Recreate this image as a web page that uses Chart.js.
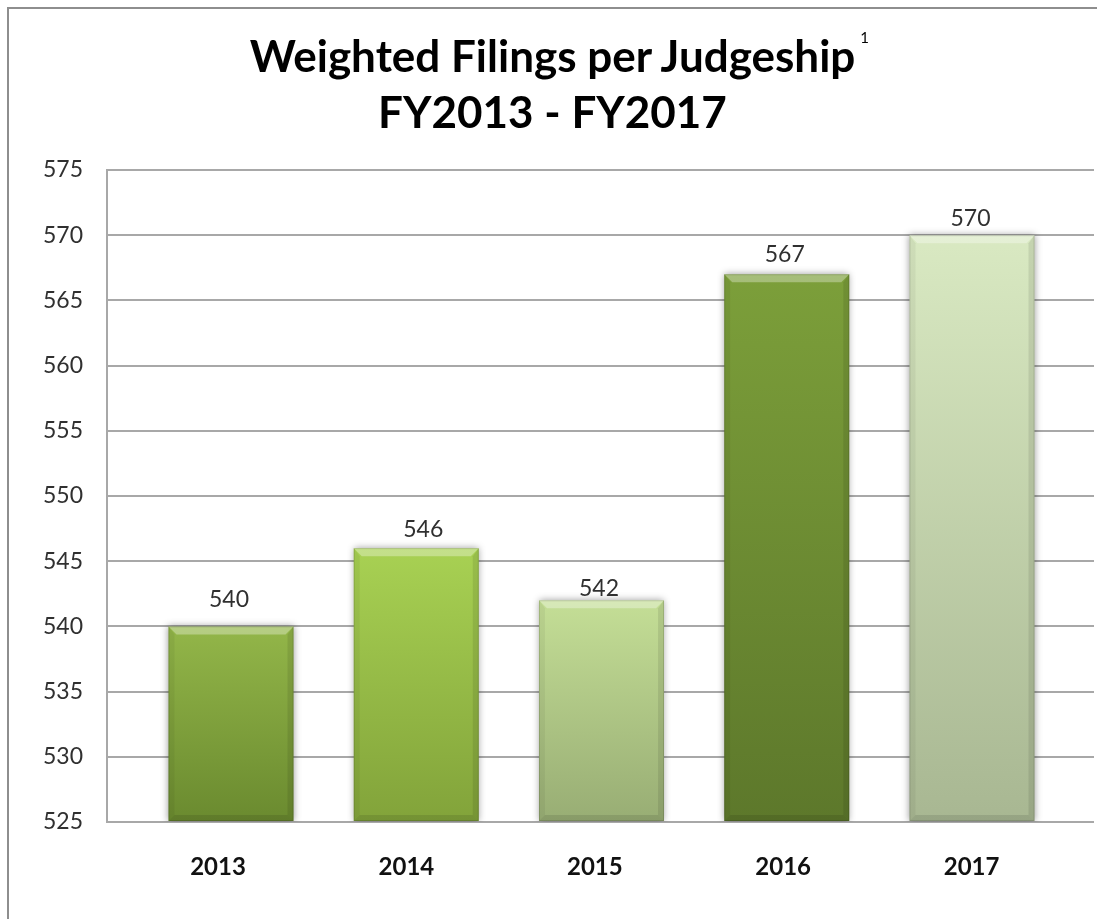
<!DOCTYPE html>
<html>
<head>
<meta charset="utf-8">
<script src="https://cdn.jsdelivr.net/npm/chart.js@4.4.1/dist/chart.umd.min.js"></script>
<style>
  html, body { margin: 0; padding: 0; background: #ffffff; }
  #wrap { position: relative; width: 1097px; height: 919px; overflow: hidden; background: #fff; }
  #frame { position: absolute; left: 7px; top: 7px; width: 1300px; height: 1100px;
           border-left: 2px solid #8e8e8e; border-top: 2px solid #8e8e8e; }
  #title { position: absolute; left: 0; top: 27px; width: 1105px; text-align: center;
           font-family: Lato, "Open Sans", sans-serif; font-weight: 700; font-size: 44px;
           line-height: 56px; color: #000; }
  #title .sup { position: relative; }
  #title .sup i { position: absolute; left: calc(100% + 5px); top: 1px; font-style: normal;
                  font-size: 15px; line-height: 15px; font-weight: 400; }
  canvas { position: absolute; left: 0; top: 0; }
</style>
</head>
<body>
<div id="wrap">
  <div id="frame"></div>
  <canvas id="c" width="1097" height="919"></canvas>
  <div id="title"><span class="sup">Weighted Filings per Judgeship<i>1</i></span><br>FY2013 - FY2017</div>
</div>
<script>
// ---- data ----
const categories = ['2013', '2014', '2015', '2016', '2017'];
const values = [540, 546, 542, 567, 570];
const yTicks = [525, 530, 535, 540, 545, 550, 555, 560, 565, 570, 575];

// ---- styles ----
const barTopColors = ['#93b649', '#a8d153', '#c4de96', '#7c9f3a', '#d9e9c2'];
const barBottomColors = ['#6a8a2f', '#82a33a', '#98ad74', '#5d782b', '#a8b792'];
const labelDx = [-2, 7, -2.5, -2, -1.5];
const labelDy = [19, 11, 4, 12, 9];

const barFx = {
  id: 'barFx',
  beforeDatasetsDraw(chart) {
    const ctx = chart.ctx;
    ctx.save();
    ctx.shadowColor = 'rgba(0,0,0,0.38)';
    ctx.shadowBlur = 7;
    ctx.shadowOffsetX = 0;
    ctx.shadowOffsetY = 0;
  },
  afterDatasetsDraw(chart) {
    const ctx = chart.ctx;
    ctx.restore();
    const meta = chart.getDatasetMeta(0);
    const area = chart.chartArea;
    const b = 8;
    ctx.save();
    meta.data.forEach((bar) => {
      const w = bar.width;
      const l = bar.x - w / 2, r = bar.x + w / 2, t = bar.y, bot = Math.min(bar.base, area.bottom);
      // top bevel
      ctx.fillStyle = 'rgba(255,255,255,0.32)';
      ctx.beginPath();
      ctx.moveTo(l, t); ctx.lineTo(r, t); ctx.lineTo(r - b, t + b); ctx.lineTo(l + b, t + b);
      ctx.closePath(); ctx.fill();
      // left bevel
      ctx.fillStyle = 'rgba(0,0,0,0.05)';
      ctx.beginPath();
      ctx.moveTo(l, t); ctx.lineTo(l + 6, t + b); ctx.lineTo(l + 6, bot - 6); ctx.lineTo(l, bot);
      ctx.closePath(); ctx.fill();
      // right bevel
      ctx.fillStyle = 'rgba(0,0,0,0.09)';
      ctx.beginPath();
      ctx.moveTo(r, t); ctx.lineTo(r - 6, t + b); ctx.lineTo(r - 6, bot - 6); ctx.lineTo(r, bot);
      ctx.closePath(); ctx.fill();
      // bottom bevel
      ctx.fillStyle = 'rgba(0,0,0,0.10)';
      ctx.beginPath();
      ctx.moveTo(l, bot); ctx.lineTo(l + 6, bot - 6); ctx.lineTo(r - 6, bot - 6); ctx.lineTo(r, bot);
      ctx.closePath(); ctx.fill();
      // thin edge
      ctx.strokeStyle = 'rgba(0,0,0,0.12)';
      ctx.lineWidth = 1;
      ctx.strokeRect(l + 0.5, t + 0.5, w - 1, bot - t - 1);
    });
    // value labels
    ctx.fillStyle = '#303030';
    ctx.font = '400 23px Lato, "Open Sans", sans-serif';
    ctx.textAlign = 'center';
    ctx.textBaseline = 'alphabetic';
    meta.data.forEach((bar, i) => {
      ctx.fillText(String(values[i]), bar.x + labelDx[i], bar.y - labelDy[i]);
    });
    ctx.restore();
  }
};

function barGradient(c) {
  const chart = c.chart, i = c.dataIndex;
  const area = chart.chartArea;
  if (!area || i === undefined) return barTopColors[i || 0];
  const top = chart.scales.y.getPixelForValue(values[i]);
  const g = chart.ctx.createLinearGradient(0, top, 0, area.bottom);
  g.addColorStop(0, barTopColors[i]);
  g.addColorStop(1, barBottomColors[i]);
  return g;
}

new Chart(document.getElementById('c'), {
  type: 'bar',
  data: {
    datasets: [{
      data: values.map((v, i) => ({ x: i, y: v })),
      xAxisID: 'x',
      yAxisID: 'y',
      base: yTicks[0],
      backgroundColor: barGradient,
      borderWidth: 0,
      barPercentage: 0.675,
      categoryPercentage: 1.0
    }]
  },
  options: {
    responsive: false,
    animation: false,
    devicePixelRatio: 1,
    layout: { padding: { left: 0, top: 170, right: 3, bottom: 0 } },
    plugins: { legend: { display: false }, tooltip: { enabled: false }, title: { display: false } },
    scales: {
      x: {
        type: 'linear',
        display: false,
        min: -0.6694,
        max: 4.6586,
        offset: false,
        grid: { offset: false },
        afterBuildTicks: (s) => { s.ticks = categories.map((c, i) => ({ value: i })); }
      },
      xl: {
        type: 'linear',
        position: 'bottom',
        min: -0.5892,
        max: 4.6497,
        offset: false,
        grid: { display: false, offset: false },
        border: { display: false },
        afterBuildTicks: (s) => { s.ticks = categories.map((c, i) => ({ value: i })); },
        afterFit: (s) => { s.height = 97; },
        ticks: {
          autoSkip: false,
          maxRotation: 0,
          padding: 23,
          color: '#111',
          font: { family: 'Lato, "Open Sans", sans-serif', size: 24, weight: '700' },
          callback: (v) => categories[v]
        }
      },
      y: {
        type: 'linear',
        min: yTicks[0],
        max: yTicks[yTicks.length - 1],
        afterBuildTicks: (s) => { s.ticks = yTicks.map(v => ({ value: v })); },
        afterFit: (s) => { s.width = 107; },
        grid: { color: '#a8a8a8', lineWidth: 2, drawTicks: false },
        border: { display: true, color: '#a8a8a8', width: 2 },
        ticks: {
          padding: 24,
          color: '#303030',
          font: { family: 'Lato, "Open Sans", sans-serif', size: 23, weight: '400' }
        }
      }
    }
  },
  plugins: [barFx]
});
</script>
</body>
</html>
